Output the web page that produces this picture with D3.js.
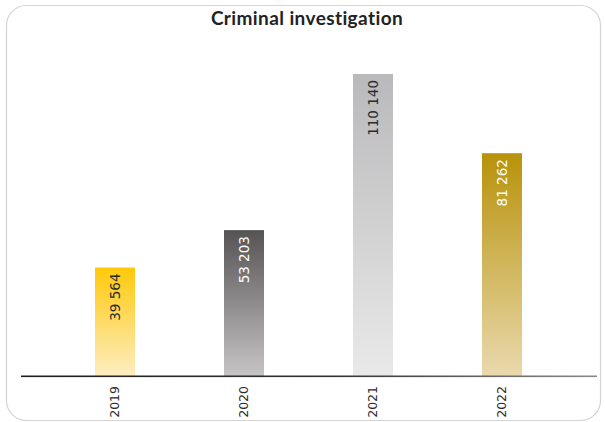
<!DOCTYPE html>
<html>
<head>
<meta charset="utf-8">
<script src="https://cdn.jsdelivr.net/npm/d3@7"></script>
<style>
  html, body { margin: 0; padding: 0; background: #fff; }
  svg { display: block; }
</style>
</head>
<body>
<svg id="chart" width="605" height="422"></svg>
<script>
// Criminal investigation cases per year
const years = ["2019", "2020", "2021", "2022"];
const cases = [39564, 53203, 110140, 81262];
const barTop = ["#ffc90a", "#555353", "#b9b9bb", "#b8920a"];
const barBottom = ["#fdedc2", "#c6c4c4", "#e9e9e9", "#e9d9ad"];
const labelColor = ["#2b2b2b", "#ffffff", "#2b2b2b", "#ffffff"];

const svg = d3.select("#chart");
const baseY = 376;

// card frame
svg.append("rect")
  .attr("x", 6.5).attr("y", 5.5)
  .attr("width", 594).attr("height", 415)
  .attr("rx", 20).attr("ry", 20)
  .attr("fill", "#fff")
  .attr("stroke", "#d4d4d4")
  .attr("stroke-width", 1.2);

svg.append("text")
  .attr("x", 307).attr("y", 25)
  .attr("text-anchor", "middle")
  .attr("font-family", "Lato, 'Noto Sans', sans-serif")
  .attr("font-weight", "bold")
  .attr("font-size", 19)
  .attr("letter-spacing", 0.4)
  .attr("fill", "#222")
  .text("Criminal investigation");

const x = d3.scaleBand()
  .domain(years)
  .range([50.5, 566.5])
  .paddingInner(0.69)
  .paddingOuter(0.345);

const y = d3.scaleLinear()
  .domain([0, d3.max(cases)])
  .range([baseY, 74]);

const defs = svg.append("defs");
years.forEach((yr, i) => {
  const g = defs.append("linearGradient")
    .attr("id", "grad" + i)
    .attr("x1", 0).attr("y1", 0).attr("x2", 0).attr("y2", 1);
  g.append("stop").attr("offset", "0%").attr("stop-color", barTop[i]);
  g.append("stop").attr("offset", "100%").attr("stop-color", barBottom[i]);
});
const axisGrad = defs.append("linearGradient")
  .attr("id", "axisGrad").attr("x1", 0).attr("x2", 1).attr("y1", 0).attr("y2", 0);
axisGrad.append("stop").attr("offset", "0%").attr("stop-color", "#1e1e1e");
axisGrad.append("stop").attr("offset", "55%").attr("stop-color", "#333");
axisGrad.append("stop").attr("offset", "100%").attr("stop-color", "#8a8a8a");

const data = years.map((yr, i) => ({ yr, v: cases[i], i }));

svg.selectAll("rect.bar")
  .data(data)
  .join("rect")
  .attr("class", "bar")
  .attr("x", d => x(d.yr))
  .attr("y", d => y(d.v))
  .attr("width", x.bandwidth())
  .attr("height", d => baseY - y(d.v))
  .attr("fill", d => `url(#grad${d.i})`);

const fmt = v => d3.format(",")(v).replace(/,/g, " ");

svg.selectAll("text.val")
  .data(data)
  .join("text")
  .attr("class", "val")
  .attr("transform", d => `translate(${x(d.yr) + x.bandwidth() / 2 + 5},${y(d.v) + 6}) rotate(-90)`)
  .attr("text-anchor", "end")
  .attr("font-family", "'DejaVu Sans', sans-serif")
  .attr("font-size", 13.5)
  .attr("fill", d => labelColor[d.i])
  .text(d => fmt(d.v));

// baseline axis
svg.append("rect")
  .attr("x", 21).attr("y", baseY - 0.5)
  .attr("width", 576).attr("height", 1.6)
  .attr("fill", "url(#axisGrad)");

const axis = d3.axisBottom(x).tickSize(0).tickPadding(0);
const gx = svg.append("g")
  .attr("transform", `translate(0,${baseY})`)
  .call(axis);
gx.select(".domain").remove();
gx.selectAll(".tick text")
  .attr("transform", "translate(4,10) rotate(-90)")
  .attr("text-anchor", "end")
  .attr("dy", 0)
  .attr("y", 0)
  .attr("font-family", "'DejaVu Sans', sans-serif")
  .attr("font-size", 12.5)
  .attr("fill", "#2b2b2b");
</script>
</body>
</html>
